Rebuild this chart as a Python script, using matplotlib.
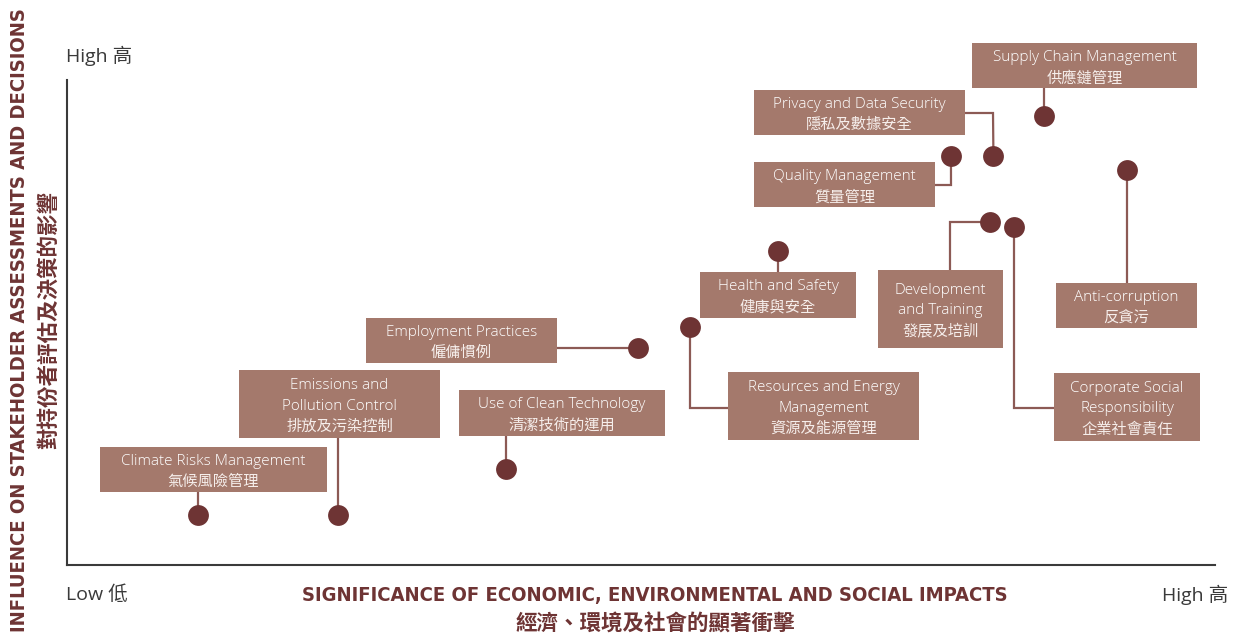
"""Materiality matrix: significance of impacts vs. stakeholder influence."""
import matplotlib
matplotlib.use("Agg")
import matplotlib.pyplot as plt
from matplotlib.patches import Rectangle

# ---- data (scores on a 0-10 scale) ----
topics_en = [
    "Climate Risks Management", "Emissions and\nPollution Control", "Use of Clean Technology",
    "Employment Practices", "Resources and Energy\nManagement", "Health and Safety",
    "Quality Management", "Privacy and Data Security", "Supply Chain Management",
    "Development\nand Training", "Corporate Social\nResponsibility", "Anti-corruption",
]
topics_zh = [
    "氣候風險管理", "排放及污染控制", "清潔技術的運用",
    "僱傭慣例", "資源及能源管理", "健康與安全",
    "質量管理", "隱私及數據安全", "供應鏈管理",
    "發展及培訓", "企業社會責任", "反貪污",
]
significance = [1.14, 2.36, 3.82, 4.97, 5.43, 6.19, 7.70, 8.07, 8.51, 8.04, 8.25, 9.23]
influence = [1.03, 1.03, 1.98, 4.47, 4.91, 6.47, 8.43, 8.43, 9.26, 7.07, 6.97, 8.14]

# ---- layout (pixels in the 1238x635 canvas) ----
W, H = 1238, 635
AX_L, AX_R, AX_T, AX_B = 67, 1215, 80, 565
boxes = [
    (100, 447, 327, 492), (239, 370, 440, 438), (459, 390, 665, 436),
    (366, 318, 557, 363), (728, 372, 919, 440), (700, 272, 856, 318),
    (754, 162, 935, 207), (754, 90, 965, 135), (972, 43, 1197, 88),
    (878, 270, 1003, 348), (1054, 373, 1200, 441), (1056, 283, 1197, 328),
]
# elbow points after the dot, "x"/"y" = keep the dot's coordinate
routes = [
    [("x", 492)], [("x", 438)], [("x", 436)],
    [(557, "y")], [("x", 408), (728, 408)], [("x", 272)],
    [(951, 185), (935, 185)], [(993, 113), (965, 113)], [("x", 88)],
    [(950, "y"), (950, 270)], [("x", 408), (1054, 408)], [("x", 283)],
]

BOX_C = "#a4796c"
DOT_C = "#6e3434"
LINE_C = "#8c5a55"
TITLE_C = "#6e3434"
GREY = "#3a3a3a"
EN_FONTS = ["Open Sans", "Noto Sans CJK TC", "DejaVu Sans"]
ZH_FONTS = ["Noto Sans CJK TC", "DejaVu Sans"]
plt.rcParams["font.family"] = EN_FONTS


def px2x(px):
    return (px - AX_L) / (AX_R - AX_L) * 10


def py2y(py):
    return (AX_B - py) / (AX_B - AX_T) * 10


fig = plt.figure(figsize=(W / 100, H / 100), dpi=100)
ax = fig.add_axes([AX_L / W, 1 - AX_B / H, (AX_R - AX_L) / W, (AX_B - AX_T) / H])
ax.set_xlim(0, 10)
ax.set_ylim(0, 10)
ax.set_xticks([])
ax.set_yticks([])
for s in ("top", "right"):
    ax.spines[s].set_visible(False)
for s in ("left", "bottom"):
    ax.spines[s].set_color(GREY)
    ax.spines[s].set_linewidth(1.5)

line_h = 20.5
for i, (en, zh) in enumerate(zip(topics_en, topics_zh)):
    sx, sy = significance[i], influence[i]
    # connector
    xs, ys = [sx], [sy]
    for px, py in routes[i]:
        xs.append(sx if px == "x" else px2x(px))
        ys.append(sy if py == "y" else py2y(py))
    ax.plot(xs, ys, color=LINE_C, lw=1.6, zorder=2, clip_on=False,
            solid_joinstyle="miter")
    # box
    x0, y0, x1, y1 = boxes[i]
    ax.add_patch(Rectangle((px2x(x0), py2y(y1)), px2x(x1) - px2x(x0), py2y(y0) - py2y(y1),
                           facecolor=BOX_C, edgecolor="none", zorder=3, clip_on=False))
    lines = en.split("\n")
    n = len(lines) + 1
    cy = (y0 + y1) / 2 + 2
    cx = (x0 + x1) / 2
    for k, t in enumerate(lines):
        ly = cy + (k - (n - 1) / 2) * line_h
        ax.text(px2x(cx), py2y(ly), t, ha="center", va="center", color="white",
                fontsize=11, fontweight="light", zorder=4)
    ly = cy + (n - 1 - (n - 1) / 2) * line_h
    ax.text(px2x(cx), py2y(ly), zh, ha="center", va="center", color="#f6eeeb",
            fontsize=11, fontweight="normal", family=ZH_FONTS, zorder=4)
    # dot
    ax.plot(sx, sy, "o", ms=15, color=DOT_C, mec="none", zorder=5, clip_on=False)

# corner labels
fig.text(66 / W, 1 - 56 / H, "High 高", ha="left", va="center", color=GREY, fontsize=14)
fig.text(66 / W, 1 - 595 / H, "Low 低", ha="left", va="center", color=GREY, fontsize=14)
fig.text(1228 / W, 1 - 595 / H, "High 高", ha="right", va="center", color=GREY, fontsize=14)

# axis titles
fig.text(655 / W, 1 - 595 / H, "SIGNIFICANCE OF ECONOMIC, ENVIRONMENTAL AND SOCIAL IMPACTS",
         ha="center", va="center", color=TITLE_C, fontsize=14.5, fontweight="bold",
         fontstretch="condensed", family=["DejaVu Sans"])
fig.text(655 / W, 1 - 624 / H, "經濟、環境及社會的顯著衝擊", ha="center", va="center",
         color=TITLE_C, fontsize=15.5, fontweight="bold", family=ZH_FONTS)
fig.text(20 / W, 1 - 320 / H, "INFLUENCE ON STAKEHOLDER ASSESSMENTS AND DECISIONS",
         ha="center", va="center", rotation=90, color=TITLE_C, fontsize=14.5, fontweight="bold",
         fontstretch="condensed", family=["DejaVu Sans"])
fig.text(48 / W, 1 - 320 / H, "對持份者評估及決策的影響", ha="center", va="center",
         rotation=90, color=TITLE_C, fontsize=15.5, fontweight="bold", family=ZH_FONTS)

fig.savefig("out.png", dpi=100)
